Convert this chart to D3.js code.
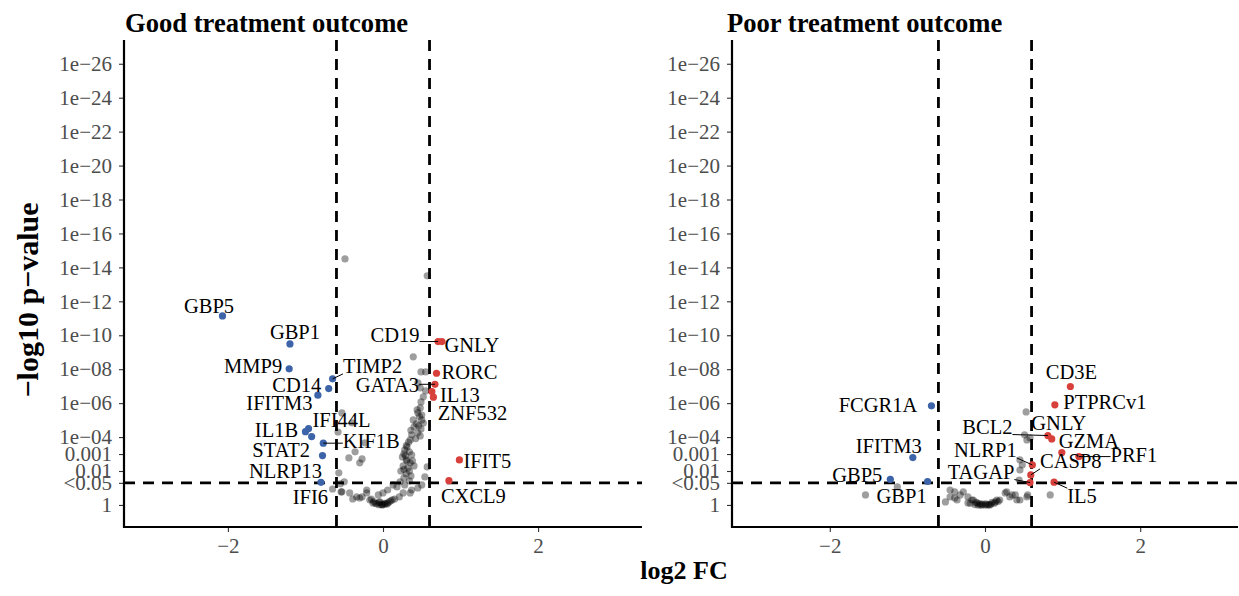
<!DOCTYPE html>
<html>
<head>
<meta charset="utf-8">
<script src="https://cdn.jsdelivr.net/npm/d3@7"></script>
<style>
  body { margin: 0; background: #ffffff; }
  text { font-family: "Liberation Serif", "Times New Roman", Times, serif; }
</style>
</head>
<body>
<svg id="chart" width="1239" height="596"></svg>
<script>
// ---- Data: log2 fold change and -log10 p-value per gene ----

// Good treatment outcome: significantly down-regulated genes
const goodDown = [
  { gene: "GBP5",   fc: -2.07, nlp: 11.14 },
  { gene: "GBP1",   fc: -1.20, nlp: 9.49 },
  { gene: "MMP9",   fc: -1.21, nlp: 8.02 },
  { gene: "TIMP2",  fc: -0.65, nlp: 7.43 },
  { gene: "CD14",   fc: -0.70, nlp: 6.86 },
  { gene: "IFITM3", fc: -0.84, nlp: 6.47 },
  { gene: "IFI44L", fc: -0.96, nlp: 4.50 },
  { gene: "IL1B",   fc: -1.00, nlp: 4.32 },
  { gene: "STAT2",  fc: -0.92, nlp: 4.03 },
  { gene: "KIF1B",  fc: -0.77, nlp: 3.64 },
  { gene: "NLRP13", fc: -0.78, nlp: 2.91 },
  { gene: "IFI6",   fc: -0.80, nlp: 1.33 }
];

// Good treatment outcome: significantly up-regulated genes
const goodUp = [
  { gene: "CD19",   fc: 0.71,  nlp: 9.63 },
  { gene: "GNLY",   fc: 0.76,  nlp: 9.63 },
  { gene: "RORC",   fc: 0.69,  nlp: 7.76 },
  { gene: "GATA3",  fc: 0.67,  nlp: 7.11 },
  { gene: "IL13",   fc: 0.63,  nlp: 6.68 },
  { gene: "ZNF532", fc: 0.65,  nlp: 6.35 },
  { gene: "IFIT5",  fc: 0.985, nlp: 2.65 },
  { gene: "CXCL9",  fc: 0.85,  nlp: 1.43 }
];

// Good treatment outcome: remaining genes [log2 FC, -log10 p]
const goodOther = [
  [-0.49, 14.50], [0.57, 13.50], [0.39, 8.73], [0.49, 7.84], [0.55, 7.84],
  [0.45, 7.19], [0.48, 6.90], [0.55, 6.72], [0.52, 6.37], [0.49, 6.07],
  [0.44, 5.60], [0.48, 5.72], [0.45, 5.42], [0.39, 5.01], [0.50, 5.01],
  [0.43, 4.78], [0.46, 4.66], [0.52, 4.83], [0.49, 4.48], [0.45, 4.25],
  [0.37, 4.13], [0.48, 4.07], [0.35, 3.83], [0.31, 3.42], [0.28, 3.24],
  [0.34, 3.13], [0.27, 3.01], [0.37, 2.95], [0.25, 2.83], [0.30, 2.65],
  [0.35, 2.48], [0.26, 2.30], [0.32, 2.18], [0.40, 2.30], [0.23, 2.00],
  [0.30, 1.83], [0.36, 1.71], [0.27, 1.59], [0.22, 1.36], [0.34, 1.42],
  [0.57, 2.24], [0.54, 1.65], [0.28, 1.18], [0.18, 1.06], [0.13, 1.18],
  [0.37, 0.88], [0.45, 1.00], [0.50, 1.18], [0.06, 0.88], [0.26, 0.71],
  [0.35, 0.71], [0.00, 0.71], [-0.06, 0.59], [-0.04, 0.18], [0.03, 0.06],
  [-0.01, 0.00], [-0.08, 0.06], [-0.13, 0.12], [-0.17, 0.29], [0.06, 0.12],
  [0.10, 0.24], [0.15, 0.35], [0.21, 0.47], [0.00, 0.02], [-0.05, 0.01],
  [-0.21, 0.71], [-0.27, 0.47], [-0.34, 0.47], [-0.43, 0.71], [-0.53, 0.77],
  [-0.55, 1.25], [-0.10, 0.10], [-0.05, 0.15], [0.05, 0.05], [0.08, 0.18],
  [-0.02, 0.03], [0.02, 0.10], [0.12, 0.30], [-0.12, 0.20], [-0.15, 0.35],
  [0.30, 3.50], [0.33, 3.70], [0.29, 2.90], [0.36, 4.40], [0.40, 4.60],
  [0.47, 5.20], [0.50, 5.30], [0.42, 3.90], [0.31, 2.60], [0.27, 2.10],
  [0.34, 2.00], [0.38, 2.60],
  [-0.53, 5.42], [-0.40, 4.84], [-0.58, 4.30], [-0.23, 3.66], [-0.36, 3.13],
  [-0.44, 2.77], [-0.30, 2.48], [-0.27, 2.71], [-0.57, 1.89], [-0.50, 1.36],
  [-0.65, 0.94], [-0.54, 0.77], [-0.21, 0.88], [-0.30, 0.41], [-0.39, 0.35]
];

// Poor treatment outcome: significantly down-regulated genes
const poorDown = [
  { gene: "FCGR1A", fc: -0.69, nlp: 5.84 },
  { gene: "IFITM3", fc: -0.93, nlp: 2.79 },
  { gene: "GBP5",   fc: -1.22, nlp: 1.51 },
  { gene: "GBP1",   fc: -0.74, nlp: 1.38 }
];

// Poor treatment outcome: significantly up-regulated genes
const poorUp = [
  { gene: "CD3E",    fc: 1.10, nlp: 6.98 },
  { gene: "PTPRCv1", fc: 0.90, nlp: 5.90 },
  { gene: "BCL2",    fc: 0.81, nlp: 4.09 },
  { gene: "GNLY",    fc: 0.86, nlp: 3.89 },
  { gene: "GZMA",    fc: 0.99, nlp: 3.09 },
  { gene: "PRF1",    fc: 1.21, nlp: 2.85 },
  { gene: "NLRP1",   fc: 0.61, nlp: 2.36 },
  { gene: "CASP8",   fc: 0.59, nlp: 1.77 },
  { gene: "TAGAP",   fc: 0.58, nlp: 1.32 },
  { gene: "IL5",     fc: 0.89, nlp: 1.34 }
];

// Poor treatment outcome: remaining genes [log2 FC, -log10 p]
const poorOther = [
  [-1.54, 0.59], [-1.13, 1.06], [0.53, 5.48], [0.51, 4.13], [0.58, 3.95],
  [0.54, 3.83], [0.45, 2.65], [0.48, 2.36], [0.45, 2.06], [0.44, 1.47],
  [0.84, 0.59], [0.54, 0.47], [0.55, 0.59], [0.28, 0.77], [0.35, 0.59],
  [0.41, 0.29], [0.26, 0.71], [0.32, 0.47], [0.39, 0.59], [0.45, 0.29],
  [0.19, 0.29], [0.13, 0.18], [0.06, 0.00], [0.00, 0.00], [-0.06, 0.00],
  [-0.10, 0.12], [-0.17, 0.29], [-0.22, 0.47], [-0.28, 0.77], [-0.32, 0.59],
  [-0.39, 0.77], [-0.39, 0.41], [-0.45, 0.47], [-0.45, 0.88], [-0.51, 0.18],
  [-0.36, 0.29], [-0.15, 0.29], [-0.22, 0.12],
  [-0.13, 0.02], [-0.09, 0.00], [-0.04, 0.00], [0.03, 0.00], [0.08, 0.05],
  [0.12, 0.10], [0.17, 0.20], [-0.03, 0.05], [-0.12, 0.15], [-0.19, 0.10],
  [0.01, 0.06], [0.09, 0.15], [0.15, 0.28], [-0.07, 0.08], [0.05, 0.02]
];

// Axis ticks
const xTickValues = [-2, 0, 2];
const yTickValues = [0, 1.30103, 2, 3, 4, 6, 8, 10, 12, 14, 16, 18, 20, 22, 24, 26];
const yTickLabels = ["1", "<0.05", "0.01", "0.001", "1e\u221204", "1e\u221206", "1e\u221208",
  "1e\u221210", "1e\u221212", "1e\u221214", "1e\u221216", "1e\u221218", "1e\u221220",
  "1e\u221222", "1e\u221224", "1e\u221226"];

// Significance thresholds
const fcCutoff = 0.6;
const pCutoff = -Math.log10(0.05);

// ---- Label placement (pixel offsets from the point: [dx of text centre, dy of baseline, leader line]) ----
const goodLabelOffsets = {
  GBP5: [-13.5, -3], GBP1: [5, -5], MMP9: [-36, 4], TIMP2: [40, -6, true],
  CD14: [-32, 3], IFITM3: [-38.5, 15], IFI44L: [33, -2], IL1B: [-29, 5],
  STAT2: [-30.5, 20], KIF1B: [48, 5, true], NLRP13: [-37, 22], IFI6: [-10.5, 22],
  CD19: [-43, 0, true], GNLY: [30, 10], RORC: [33, 6], GATA3: [-47.5, 8, true],
  IL13: [28, 10], ZNF532: [39, 23], IFIT5: [28, 8], CXCL9: [24.5, 22]
};
const poorLabelOffsets = {
  FCGR1A: [-53.5, 6], IFITM3: [-24, -5], GBP5: [-33, 3], GBP1: [-26, 21],
  CD3E: [1, -7], PTPRCv1: [50, 4], BCL2: [-60.5, -2, true], GNLY: [7, -9],
  GZMA: [27, -5], PRF1: [55, 5, true], NLRP1: [-47, -8, true], CASP8: [40, -7, true],
  TAGAP: [-49, -4, true], IL5: [28, 21, true]
};

// ---- Layout ----
const W = 1239, H = 596;
const plotTop = 40, plotBottom = 527;
const colBlue = "#3d64a8", colRed = "#d8403b";
const ptR = 3.6;

const panels = [
  { title: "Good treatment outcome", titleX: 125, down: goodDown, up: goodUp, other: goodOther,
    left: 124, right: 642, xLim: 3.34, offsets: goodLabelOffsets },
  { title: "Poor treatment outcome", titleX: 727, down: poorDown, up: poorUp, other: poorOther,
    left: 732, right: 1238, xLim: 3.26, offsets: poorLabelOffsets }
];

const svg = d3.select("#chart");
svg.append("rect").attr("width", W).attr("height", H).attr("fill", "#ffffff");

const y = d3.scaleLinear().domain([-1.3, 27.4]).range([plotBottom, plotTop]);

panels.forEach(p => {
  const x = d3.scaleLinear().domain([-p.xLim, p.xLim]).range([p.left, p.right]);
  const g = svg.append("g");

  // Title
  g.append("text")
    .attr("x", p.titleX).attr("y", 32)
    .attr("font-size", 26.6).attr("font-weight", "bold").attr("fill", "#000")
    .text(p.title);

  // Y axis ticks + labels
  const yAxis = d3.axisLeft(y).tickValues(yTickValues)
    .tickFormat((d, i) => yTickLabels[i]).tickSize(5).tickPadding(7);
  const ya = g.append("g").attr("transform", `translate(${p.left},0)`).call(yAxis);
  ya.select(".domain").remove();
  ya.selectAll(".tick line").attr("stroke", "#333333").attr("stroke-width", 1.1);
  ya.selectAll(".tick text").attr("fill", "#4d4d4d").attr("font-size", 21)
    .attr("font-family", "'Liberation Serif', 'Times New Roman', serif");

  // X axis ticks + labels
  const xAxis = d3.axisBottom(x).tickValues(xTickValues)
    .tickFormat(d => d < 0 ? "\u2212" + Math.abs(d) : String(d)).tickSize(5).tickPadding(6);
  const xa = g.append("g").attr("transform", `translate(0,${plotBottom})`).call(xAxis);
  xa.select(".domain").remove();
  xa.selectAll(".tick line").attr("stroke", "#333333").attr("stroke-width", 1.1);
  xa.selectAll(".tick text").attr("fill", "#4d4d4d").attr("font-size", 21)
    .attr("font-family", "'Liberation Serif', 'Times New Roman', serif");

  // Axis lines
  g.append("line").attr("x1", p.left).attr("x2", p.left)
    .attr("y1", plotTop).attr("y2", plotBottom + 1)
    .attr("stroke", "#000").attr("stroke-width", 2.2);
  g.append("line").attr("x1", p.left - 1).attr("x2", p.right)
    .attr("y1", plotBottom).attr("y2", plotBottom)
    .attr("stroke", "#000").attr("stroke-width", 2.2);

  // Threshold lines
  const dash = "11,8";
  [-fcCutoff, fcCutoff].forEach(v => {
    g.append("line").attr("x1", x(v)).attr("x2", x(v))
      .attr("y1", plotTop).attr("y2", plotBottom)
      .attr("stroke", "#000").attr("stroke-width", 2.8).attr("stroke-dasharray", dash);
  });
  g.append("line").attr("x1", p.left).attr("x2", p.right)
    .attr("y1", y(pCutoff)).attr("y2", y(pCutoff))
    .attr("stroke", "#000").attr("stroke-width", 2.8).attr("stroke-dasharray", dash);

  // Non-significant genes
  g.append("g").selectAll("circle").data(p.other).join("circle")
    .attr("cx", d => x(d[0])).attr("cy", d => y(d[1])).attr("r", ptR)
    .attr("fill", "#000").attr("fill-opacity", 0.38);

  // Significant genes
  const sig = p.down.map(d => ({ ...d, col: colBlue })).concat(p.up.map(d => ({ ...d, col: colRed })));
  g.append("g").selectAll("circle").data(sig).join("circle")
    .attr("cx", d => x(d.fc)).attr("cy", d => y(d.nlp)).attr("r", ptR)
    .attr("fill", d => d.col);

  // Gene labels with optional leader lines
  const lg = g.append("g");
  const segG = g.insert("g", () => lg.node());
  sig.forEach(d => {
    const off = p.offsets[d.gene] || [0, -8];
    const px = x(d.fc), py = y(d.nlp);
    const t = lg.append("text")
      .attr("x", px + off[0]).attr("y", py + off[1])
      .attr("text-anchor", "middle").attr("font-size", 20.5).attr("fill", "#000")
      .text(d.gene);
    if (off[2]) {
      const b = t.node().getBBox();
      const bx = Math.max(b.x, Math.min(px, b.x + b.width));
      const by = Math.max(b.y + 3, Math.min(py, b.y + b.height - 3));
      segG.append("line").attr("x1", px).attr("y1", py).attr("x2", bx).attr("y2", by)
        .attr("stroke", "#000").attr("stroke-width", 1);
    }
  });
});

// Shared axis titles
svg.append("text")
  .attr("x", 684).attr("y", 579).attr("text-anchor", "middle")
  .attr("font-size", 26).attr("font-weight", "bold").attr("fill", "#000")
  .text("log2 FC");
svg.append("text")
  .attr("transform", "translate(38,300) rotate(-90)").attr("text-anchor", "middle")
  .attr("font-size", 30).attr("font-weight", "bold").attr("fill", "#000")
  .text("\u2212log10 p\u2212value");
</script>
</body>
</html>
